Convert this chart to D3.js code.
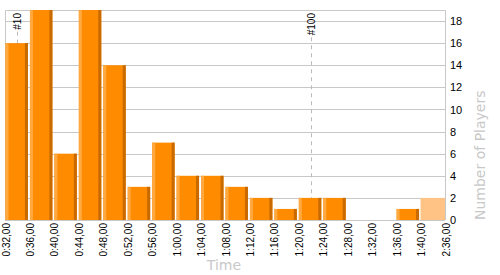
<!DOCTYPE html>
<html>
<head>
<meta charset="utf-8">
<script src="https://cdn.jsdelivr.net/npm/d3@7"></script>
<style>
  body { margin: 0; background: #fff; }
  svg { display: block; font-family: "Liberation Sans", Arial, sans-serif; }
</style>
</head>
<body>
<div id="main"></div>
<script>
// bin edges (tick labels) and players per bin
let edgeLabels = ["0:32,00", "0:36,00", "0:40,00", "0:44,00", "0:48,00", "0:52,00", "0:56,00",
    "1:00,00", "1:04,00", "1:08,00", "1:12,00", "1:16,00", "1:20,00", "1:24,00", "1:28,00",
    "1:32,00", "1:36,00", "1:40,00", "2:36,00"]
let players = [16, 19, 6, 19, 14, 3, 7, 4, 4, 3, 2, 1, 2, 2, 0, 0, 1, 2]
// last bin is the open-ended one, drawn lighter
let lastBinOpen = true
// rank markers, time in minutes
let markerLabels = ["#10", "#100"]
let markerMinutes = [34, 82]
let yTicks = [0, 2, 4, 6, 8, 10, 12, 14, 16, 18]

let margin = {top: 10, right: 55, bottom: 55, left: 5}
let W = 500, H = 275
let pxX = W - margin.left - margin.right,
    pxY = H - margin.top - margin.bottom

let svg = d3.select("#main").append("svg")
    .attr("width", W)
    .attr("height", H)
let g = svg.append("g")
    .attr("transform", `translate(${margin.left} ${margin.top})`)

let scX = d3.scaleLinear().domain([0, players.length]).range([0, pxX])
let scY = d3.scaleLinear().domain([0, 19]).range([pxY, 0])
let binW = scX(1) - scX(0)

// grid
g.selectAll("line.grid").data(yTicks).enter()
    .append("line")
    .attr("x1", 0).attr("x2", pxX)
    .attr("y1", d => Math.round(scY(d)) + 0.5)
    .attr("y2", d => Math.round(scY(d)) + 0.5)
    .attr("stroke", "#c8c8c8")
// frame: top, left, right
g.append("path")
    .attr("d", `M0.5,${pxY}V0.5H${pxX + 0.5}V${pxY}`)
    .attr("fill", "none")
    .attr("stroke", "#c8c8c8")

// markers (behind bars)
markerMinutes.forEach((m, i) => {
    let x = Math.round(scX((m - 32) / 4)) + 0.5
    let line = g.append("line")
        .attr("x1", x).attr("x2", x)
        .attr("y2", pxY)
        .attr("stroke", "#bbb")
        .attr("stroke-dasharray", "4,4")
    let t = g.append("text")
        .attr("transform", `translate(${x} 3) rotate(-90)`)
        .attr("text-anchor", "end")
        .attr("dy", "0.35em")
        .attr("font-size", "10px")
        .attr("fill", "#000")
        .text(markerLabels[i])
    line.attr("y1", 3 + t.node().getComputedTextLength() + 2)
})

// bars
let bars = g.append("g")
players.forEach((v, i) => {
    if (v <= 0) return
    let x0 = scX(i), y0 = scY(v), h = pxY - y0
    let last = lastBinOpen && i == players.length - 1
    if (last) {
        bars.append("rect")
            .attr("x", x0).attr("y", y0)
            .attr("width", binW).attr("height", h)
            .attr("fill", "#ffc485")
        return
    }
    let bx = x0 + 0.5, bw = binW - 2
    bars.append("rect")
        .attr("x", bx).attr("y", y0)
        .attr("width", bw).attr("height", h)
        .attr("fill", "#ff8c00")
    bars.append("rect")
        .attr("x", bx).attr("y", y0)
        .attr("width", 3).attr("height", h)
        .attr("fill", "#ffa940")
    bars.append("rect")
        .attr("x", bx + bw - 3).attr("y", y0)
        .attr("width", 3).attr("height", h)
        .attr("fill", "#c86a00")
})

// x labels at bin edges
g.selectAll("text.xl").data(edgeLabels).enter()
    .append("text")
    .attr("transform", (d, i) => `translate(${scX(i) + 1} ${pxY + 3}) rotate(-90)`)
    .attr("text-anchor", "end")
    .attr("dy", "0.35em")
    .attr("font-size", "10px")
    .attr("fill", "#000")
    .text(d => d)

// y axis on the right
let axis = d3.axisRight(scY).tickValues(yTicks).tickSize(0).tickPadding(5)
let ax = g.append("g")
    .attr("transform", `translate(${pxX} 0)`)
    .call(axis)
ax.select(".domain").remove()
ax.selectAll("text")
    .attr("font-family", "Liberation Sans, Arial, sans-serif")
    .attr("font-size", "11px")
    .attr("fill", "#000")

// axis titles
svg.append("text")
    .attr("x", 224).attr("y", 270)
    .attr("text-anchor", "middle")
    .attr("font-family", "DejaVu Sans, sans-serif")
    .attr("font-size", "14px")
    .attr("fill", "#c8c8c8")
    .text("Time")
svg.append("text")
    .attr("transform", "translate(485 220) rotate(-90)")
    .attr("text-anchor", "start")
    .attr("font-family", "DejaVu Sans, sans-serif")
    .attr("font-size", "14px")
    .attr("fill", "#c8c8c8")
    .text("Number of Players")
</script>
</body>
</html>
